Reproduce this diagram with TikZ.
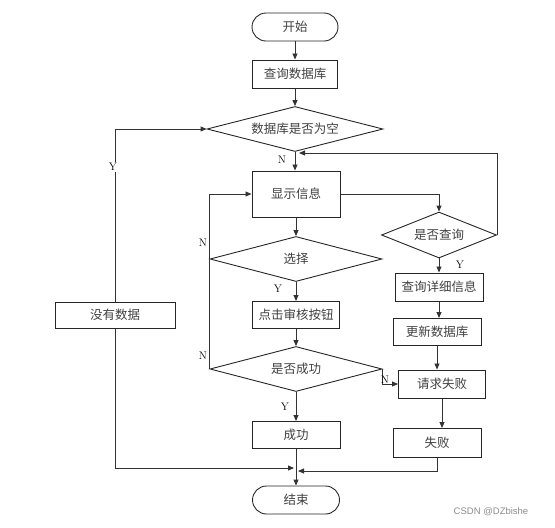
\documentclass[tikz,border=0pt]{standalone}
\usepackage{fontspec}
\usepackage{tikz}
\usetikzlibrary{shapes.geometric, arrows.meta, positioning, calc}
\newfontfamily\cjk{Noto Sans CJK SC}
\newfontfamily\wmfont{Liberation Sans}

\begin{document}
\begin{tikzpicture}[
    x=1pt, y=-1pt,
    term/.style={
        rectangle, rounded corners=14pt, minimum width=86pt,
        minimum height=28pt, draw=black!85, line width=0.9pt,
        font=\cjk\fontsize{12.5}{14}\selectfont, text=black!75
    },
    procbox/.style={
        rectangle, minimum width=88pt, minimum height=28pt,
        draw=black!85, line width=1pt, inner sep=0pt,
        font=\cjk\fontsize{12.5}{14}\selectfont, text=black!75
    },
    decision/.style={
        diamond, aspect=4, inner sep=0pt, draw=black!85, line width=0.9pt,
        font=\cjk\fontsize{12.5}{14}\selectfont, text=black!75
    },
    flag/.style={font=\fontsize{11}{13}\selectfont, inner sep=1pt},
    arrow/.style={-{Triangle[length=6pt, width=5pt]}, line width=0.9pt, black!80},
    line/.style={line width=0.9pt, black!80}
]
    \useasboundingbox (0,0) rectangle (555,528);

    \node[term]                                   (start)   at (295,27)  {开始};
    \node[procbox, minimum width=85pt]            (query)   at (295,74)  {查询数据库};
    \node[decision, minimum width=176pt, minimum height=45pt] (empty) at (295,129) {数据库是否为空};
    \node[procbox, minimum width=120pt, minimum height=26pt] (nodata) at (115,315) {没有数据};
    \node[procbox, minimum height=46pt]           (show)    at (296,194) {显示信息};
    \node[decision, minimum width=172pt, minimum height=45pt] (select) at (296,259) {选择};
    \node[decision, minimum width=172pt, minimum height=45pt] (ok) at (296,369) {是否成功};
    \node[procbox, minimum width=87pt, minimum height=27pt] (audit) at (296,315) {点击审核按钮};
    \node[procbox, minimum height=27pt]           (success) at (296,435) {成功};
    \node[term, minimum width=87pt]               (finish)  at (296,500) {结束};

    \node[decision, minimum width=115pt, minimum height=46pt] (ask) at (439,235) {是否查询};
    \node[procbox]                                (detail)  at (439,287) {查询详细信息};
    \node[procbox, minimum height=27pt]           (update)  at (437,332) {更新数据库};
    \node[procbox, minimum width=87pt]            (request) at (442,384) {请求失败};
    \node[procbox, minimum height=29pt]           (failed)  at (437,443) {失败};

    \coordinate (loopin) at (299,153);
    \coordinate (mergeL) at (294,468);
    \coordinate (mergeR) at (298,471);

    % main column
    \foreach \i/\j in {start/query, query/empty, empty/show, show/select,
                       select/audit, audit/ok, ok/success, success/finish} {
        \draw[arrow] (\i.south) -- (\i.south |- \j.north);
    }
    % right column
    \foreach \i/\j in {ask/detail, detail/update, update/request, request/failed} {
        \draw[arrow] (\i.south) -- (\i.south |- \j.north);
    }

    % branches
    \draw[arrow] (nodata.north) |- (empty.west);
    \draw[arrow] (nodata.south) |- (mergeL);
    \draw[arrow] (failed.south) |- (mergeR);
    \draw[arrow] (select.west) |- (show.west);
    \draw[line]  (ok.west) -- (select.west);
    \draw[arrow] (show.east) -| (ask.north);
    \draw[arrow] (ask.east) |- (loopin);
    \draw[arrow] (ok.east) |- (request.west);

    % labels
    \node[flag, fill=white] (yempty) at (113,167) {Y};
    \node[flag] (nempty)  at (282,160) {N};
    \node[flag] (nselect) at (203,243) {N};
    \node[flag] (yselect) at (278,289) {Y};
    \node[flag] (nok)     at (203,356) {N};
    \node[flag] (yok)     at (285,407) {Y};
    \node[flag] (nreq)    at (385,380) {N};
    \node[flag] (yask)    at (460,265) {Y};

    \node[font=\wmfont\fontsize{9.5}{11}\selectfont, text=black!45] (mark) at (491,512) {CSDN @DZbishe};
\end{tikzpicture}
\end{document}
